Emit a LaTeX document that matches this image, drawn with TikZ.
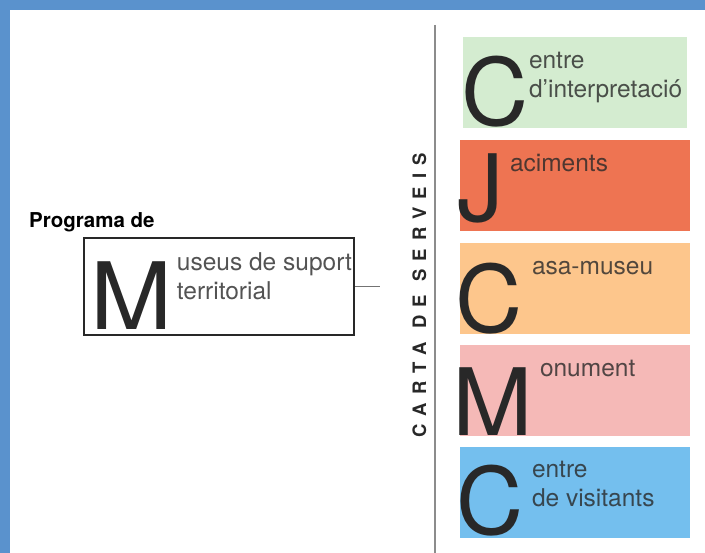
\documentclass[tikz,border=0pt]{standalone}
\usepackage{fontspec}
\setmainfont{TeX Gyre Heros}
\usetikzlibrary{positioning}

\definecolor{frameblue}{RGB}{90,146,205}
\definecolor{cigreen}{RGB}{212,236,208}
\definecolor{jared}{RGB}{238,116,82}
\definecolor{caorange}{RGB}{253,198,140}
\definecolor{mopink}{RGB}{245,185,183}
\definecolor{cvblue}{RGB}{116,191,238}
\definecolor{ink}{RGB}{40,40,40}

\tikzset{
    service/.style={rectangle,inner sep=0pt,minimum width=230pt,minimum height=91pt},
    initial/.style={inner sep=0pt,anchor=base west,text=ink,font=\fontsize{93}{93}\selectfont},
    gloss/.style={inner sep=0pt,anchor=base west,align=left,text=ink,text opacity=0.8,font=\fontsize{24.5}{29}\selectfont},
}

\begin{document}
\begin{tikzpicture}[x=1pt,y=-1pt]
    \useasboundingbox (0,0) rectangle (705,553);
    \fill[frameblue] (0,0) rectangle (705,10);
    \fill[frameblue] (0,0) rectangle (10,553);

    % programa
    \node[inner sep=0pt,anchor=base west,font=\bfseries\fontsize{20.5}{24}\selectfont] (prog) at (29,228) {Programa de};
    \node[draw=ink,line width=2.5pt,inner sep=0pt,minimum width=270pt,minimum height=97pt] (mst) at (219,286.5) {};
    \node[initial,xscale=1.06] (mstM) at ([shift={(8,-7)}]mst.south west) {M};
    \node[gloss] (mstT) at ([shift={(94,34+29)}]mst.north west) {useus de suport\\territorial};
    \coordinate[right=25pt of mst] (tip);
    \draw[black!55,line width=1.2pt] (mst) -- (tip);

    % carta de serveis
    \node[rotate=90,inner sep=0pt,text=ink,font=\bfseries\fontsize{18.5}{18.5}\selectfont\addfontfeature{LetterSpace=44}] (carta) at (419.5,295) {CARTA DE SERVEIS};
    \draw[black!45,line width=2.2pt] (435,25) -- (435,553);

    \node[service,fill=cigreen,minimum width=224pt] (ci) at (575,83) {};
    \node[service,fill=jared] (ja) at (574.5,185.5) {};
    \node[service,fill=caorange] (ca) at (574.5,288.5) {};
    \node[service,fill=mopink] (mo) at (574.5,390.5) {};
    \node[service,fill=cvblue] (cv) at (574.5,493) {};

    \node[initial] (ciC) at ([shift={(-2,-3)}]ci.south west) {C};
    \node[initial] (jaJ) at ([shift={(-2,-10)}]ja.south west) {J};
    \node[initial] (caC) at ([shift={(-4,-2)}]ca.south west) {C};
    \node[initial,xscale=1.04] (moM) at ([shift={(-7,-1)}]mo.south west) {M};
    \node[initial] (cvC) at ([shift={(-3,-4)}]cv.south west) {C};

    \node[gloss] (ciT) at ([shift={(66,31+29)}]ci.north west) {entre\\d'interpretació};
    \node[gloss] (jaT) at ([shift={(50.5,32)}]ja.north west) {aciments};
    \node[gloss] (caT) at ([shift={(72.5,32)}]ca.north west) {asa-museu};
    \node[gloss] (moT) at ([shift={(80.5,32)}]mo.north west) {onument};
    \node[gloss] (cvT) at ([shift={(72.5,30+29)}]cv.north west) {entre\\de visitants};
\end{tikzpicture}
\end{document}
